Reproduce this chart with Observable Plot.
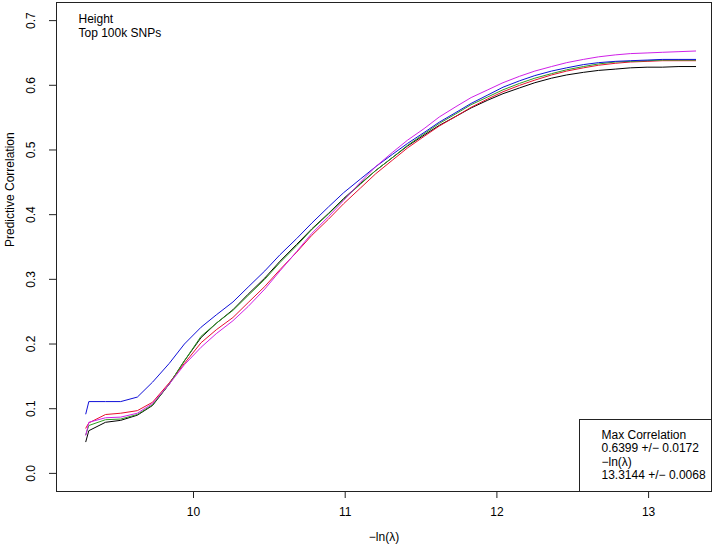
<!DOCTYPE html>
<html>
<head>
<meta charset="utf-8">
<script src="https://cdn.jsdelivr.net/npm/d3@7"></script>
<script src="https://cdn.jsdelivr.net/npm/@observablehq/plot@0.6"></script>
<style>
  html, body { margin: 0; padding: 0; background: #ffffff; }
  #chart svg { display: block; }
</style>
</head>
<body>
<div id="chart"></div>
<script>
// -ln(lambda) grid
const xGrid = [9.29, 9.31, 9.42, 9.52, 9.63, 9.73, 9.84, 9.94, 10.05, 10.15,
  10.26, 10.36, 10.47, 10.57, 10.68, 10.78, 10.89, 10.99, 11.10, 11.20,
  11.31, 11.41, 11.52, 11.62, 11.73, 11.83, 11.94, 12.04, 12.15, 12.25,
  12.36, 12.46, 12.57, 12.67, 12.78, 12.88, 12.99, 13.09, 13.20, 13.31];

// predictive correlation per fold
const blackSeries = [0.049, 0.066, 0.079, 0.082, 0.090, 0.105, 0.138, 0.174, 0.210, 0.232,
  0.253, 0.277, 0.302, 0.328, 0.354, 0.378, 0.402, 0.425, 0.448, 0.468,
  0.488, 0.506, 0.523, 0.538, 0.552, 0.565, 0.577, 0.587, 0.596, 0.604,
  0.611, 0.616, 0.620, 0.623, 0.625, 0.627, 0.628, 0.628, 0.629, 0.629];
const redSeries = [0.070, 0.078, 0.091, 0.093, 0.097, 0.110, 0.140, 0.170, 0.202, 0.222,
  0.241, 0.264, 0.289, 0.315, 0.342, 0.368, 0.393, 0.417, 0.441, 0.463,
  0.484, 0.503, 0.521, 0.537, 0.552, 0.566, 0.579, 0.590, 0.600, 0.608,
  0.616, 0.622, 0.627, 0.631, 0.634, 0.636, 0.637, 0.638, 0.638, 0.638];
const greenSeries = [0.060, 0.074, 0.083, 0.084, 0.091, 0.106, 0.138, 0.174, 0.212, 0.232,
  0.252, 0.275, 0.300, 0.326, 0.352, 0.377, 0.401, 0.424, 0.447, 0.468,
  0.488, 0.507, 0.525, 0.541, 0.556, 0.570, 0.582, 0.593, 0.603, 0.611,
  0.618, 0.624, 0.629, 0.633, 0.636, 0.637, 0.638, 0.639, 0.639, 0.639];
const blueSeries = [0.092, 0.111, 0.111, 0.111, 0.118, 0.141, 0.170, 0.200, 0.226, 0.245,
  0.265, 0.288, 0.313, 0.338, 0.363, 0.387, 0.412, 0.434, 0.455, 0.474,
  0.493, 0.510, 0.527, 0.543, 0.558, 0.572, 0.585, 0.597, 0.607, 0.615,
  0.622, 0.627, 0.632, 0.635, 0.637, 0.638, 0.639, 0.640, 0.640, 0.640];
const magentaSeries = [0.059, 0.079, 0.086, 0.087, 0.093, 0.108, 0.138, 0.168, 0.195, 0.216,
  0.236, 0.258, 0.285, 0.313, 0.343, 0.371, 0.397, 0.422, 0.450, 0.474,
  0.496, 0.515, 0.533, 0.551, 0.567, 0.581, 0.593, 0.604, 0.614, 0.622,
  0.629, 0.635, 0.640, 0.644, 0.647, 0.649, 0.650, 0.651, 0.652, 0.653];

const seriesNames = ["black", "red", "green", "blue", "magenta"];
const seriesColors = ["#000000", "#e8102e", "#2f9a22", "#1010d8", "#d020e8"];
const seriesValues = [blackSeries, redSeries, greenSeries, blueSeries, magentaSeries];

const xTicks = [10, 11, 12, 13];
const yTicks = [0.0, 0.1, 0.2, 0.3, 0.4, 0.5, 0.6, 0.7];

const xTitle = "\u2212ln(\u03bb)";
const yTitle = "Predictive Correlation";
const noteLines = ["Height", "Top 100k SNPs"];
const legendLines = ["Max Correlation", "0.6399 +/\u2212 0.0172", "\u2212ln(\u03bb)", "13.3144 +/\u2212 0.0068"];

const rows = [];
seriesNames.forEach((name, i) => {
  xGrid.forEach((x, j) => rows.push({series: name, x, y: seriesValues[i][j]}));
});

const font = "'Liberation Sans', Arial, Helvetica, sans-serif";

const lineMarks = seriesNames.map((name, i) =>
  Plot.line(rows.filter(d => d.series === name), {
    x: "x", y: "y", stroke: seriesColors[i], strokeWidth: 1
  })
);

const chart = Plot.plot({
  width: 712,
  height: 547,
  marginLeft: 56,
  marginRight: 1,
  marginTop: 2,
  marginBottom: 56,
  style: {fontFamily: font, fontSize: "12px", background: "#ffffff", color: "#000000"},
  x: {domain: [9.0969, 13.4146], label: null},
  y: {domain: [-0.028, 0.728], label: null},
  marks: [
    ...lineMarks,
    Plot.frame({stroke: "#222222", strokeWidth: 1}),
    Plot.frame({insetLeft: 523, insetTop: 417, fill: "#ffffff", stroke: "#222222", strokeWidth: 1}),
    Plot.axisX(xTicks, {anchor: "bottom", tickSize: 7, tickPadding: 9, tickFormat: d3.format("d"), fontSize: 12, label: null, stroke: "#222222"}),
    Plot.axisY(yTicks, {anchor: "left", tickSize: 7, tickPadding: 15, tickRotate: -90, tickFormat: d3.format(".1f"), fontSize: 12, label: null, stroke: "#222222"}),
    Plot.text([xTitle], {text: d => d, frameAnchor: "bottom", dy: 49, fontSize: 12, fill: "#000000"}),
    Plot.text([yTitle], {text: d => d, frameAnchor: "left", dx: -46, rotate: -90, fontSize: 12, fill: "#000000"}),
    Plot.text([noteLines.join("\n")], {text: d => d, frameAnchor: "top-left", dx: 22, dy: 10.7, textAnchor: "start", lineAnchor: "top", lineHeight: 1.167, fontSize: 12, fill: "#000000"}),
    Plot.text([legendLines.join("\n")], {text: d => d, frameAnchor: "top-left", dx: 545, dy: 426.7, textAnchor: "start", lineAnchor: "top", lineHeight: 1.125, fontSize: 12, fill: "#000000"})
  ]
});

document.getElementById("chart").appendChild(chart);
</script>
</body>
</html>
